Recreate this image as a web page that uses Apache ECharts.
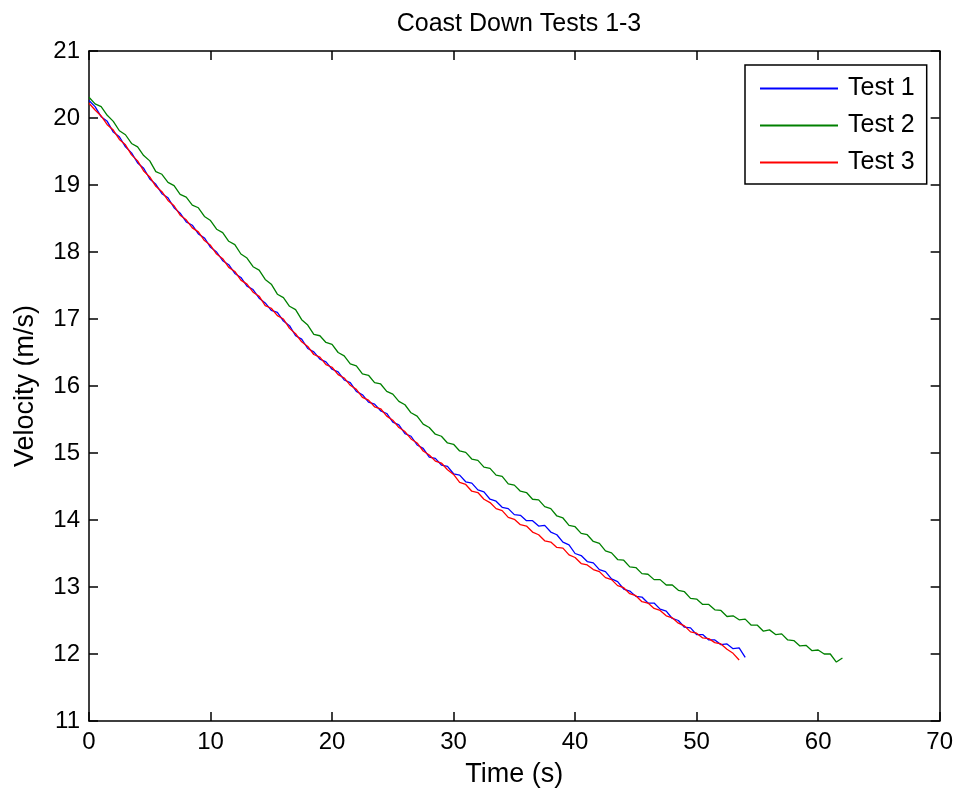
<!DOCTYPE html>
<html>
<head>
<meta charset="utf-8">
<script src="https://cdn.jsdelivr.net/npm/echarts@6/dist/echarts.min.js"></script>
<style>
html,body{margin:0;padding:0;background:#fff;}
#chart{width:956px;height:793px;}
</style>
</head>
<body>
<div id="chart"></div>
<script>
const titleText = "Coast Down Tests 1-3";
const xName = "Time (s)";
const yName = "Velocity (m/s)";
const seriesNames = ["Test 1", "Test 2", "Test 3"];
const xTicks = [0, 10, 20, 30, 40, 50, 60, 70];
const yTicks = [11, 12, 13, 14, 15, 16, 17, 18, 19, 20, 21];

// sample times (s)
const time = [0,0.5,1,1.5,2,2.5,3,3.5,4,4.5,5,5.5,6,6.5,7,7.5,8,8.5,9,9.5,
10,10.5,11,11.5,12,12.5,13,13.5,14,14.5,15,15.5,16,16.5,17,17.5,18,18.5,19,19.5,
20,20.5,21,21.5,22,22.5,23,23.5,24,24.5,25,25.5,26,26.5,27,27.5,28,28.5,29,29.5,
30,30.5,31,31.5,32,32.5,33,33.5,34,34.5,35,35.5,36,36.5,37,37.5,38,38.5,39,39.5,
40,40.5,41,41.5,42,42.5,43,43.5,44,44.5,45,45.5,46,46.5,47,47.5,48,48.5,49,49.5,
50,50.5,51,51.5,52,52.5,53,53.5,54,54.5,55,55.5,56,56.5,57,57.5,58,58.5,59,59.5,
60,60.5,61,61.5,62];

// Test 1 velocity (m/s)
const test1 = [20.26,20.17,20.02,19.95,19.79,19.72,19.57,19.48,19.33,19.25,
19.09,19.01,18.87,18.81,18.66,18.58,18.45,18.40,18.27,18.21,
18.07,18.00,17.87,17.81,17.68,17.62,17.49,17.44,17.31,17.24,
17.13,17.10,16.97,16.90,16.75,16.70,16.56,16.51,16.40,16.36,
16.25,16.21,16.09,16.05,15.92,15.87,15.76,15.73,15.63,15.59,
15.46,15.42,15.29,15.25,15.12,15.07,14.94,14.92,14.82,14.80,
14.69,14.67,14.57,14.55,14.45,14.42,14.31,14.28,14.19,14.17,
14.08,14.07,13.99,13.99,13.91,13.92,13.82,13.78,13.67,13.63,
13.50,13.47,13.38,13.36,13.26,13.23,13.12,13.08,12.97,12.94,
12.86,12.85,12.76,12.76,12.67,12.64,12.53,12.50,12.40,12.39,
12.29,12.29,12.21,12.21,12.14,12.15,12.08,12.09,11.95];

// Test 2 velocity (m/s)
const test2 = [20.31,20.21,20.17,20.04,19.95,19.81,19.75,19.62,19.57,19.44,
19.36,19.20,19.16,19.04,18.99,18.86,18.82,18.70,18.66,18.53,
18.47,18.34,18.29,18.16,18.11,17.97,17.91,17.78,17.73,17.59,
17.52,17.37,17.32,17.19,17.14,16.99,16.91,16.77,16.75,16.65,
16.62,16.50,16.45,16.33,16.30,16.18,16.16,16.05,16.03,15.92,
15.88,15.77,15.72,15.60,15.55,15.43,15.38,15.28,15.25,15.15,
15.13,15.03,15.01,14.91,14.89,14.79,14.77,14.67,14.65,14.54,
14.52,14.43,14.41,14.31,14.30,14.20,14.17,14.06,14.03,13.92,
13.90,13.80,13.78,13.68,13.65,13.54,13.51,13.41,13.40,13.30,
13.29,13.20,13.19,13.11,13.11,13.03,13.03,12.95,12.93,12.83,
12.82,12.74,12.74,12.66,12.65,12.56,12.57,12.51,12.52,12.43,
12.43,12.34,12.36,12.29,12.30,12.21,12.20,12.12,12.13,12.05,
12.06,12.00,12.00,11.88,11.94];

// Test 3 velocity (m/s)
const test3 = [20.22,20.12,20.03,19.90,19.82,19.68,19.60,19.45,19.36,19.21,
19.12,18.98,18.90,18.77,18.69,18.55,18.48,18.36,18.30,18.17,
18.10,17.97,17.90,17.77,17.71,17.58,17.52,17.40,17.34,17.20,
17.16,17.05,17.00,16.86,16.78,16.66,16.59,16.47,16.43,16.32,
16.28,16.17,16.12,16.01,15.95,15.83,15.79,15.69,15.66,15.55,
15.49,15.38,15.32,15.21,15.15,15.03,14.97,14.88,14.85,14.75,
14.68,14.56,14.53,14.43,14.41,14.31,14.26,14.17,14.14,14.04,
14.01,13.93,13.91,13.82,13.78,13.69,13.67,13.59,13.58,13.48,
13.44,13.35,13.33,13.26,13.23,13.14,13.11,13.02,12.99,12.90,
12.87,12.78,12.76,12.68,12.65,12.57,12.54,12.46,12.42,12.33,
12.31,12.24,12.23,12.17,12.15,12.07,12.01,11.91];

const colors = ["#0000ff", "#008000", "#ff0000"];
const FONT = "Liberation Sans";

function pairs(vals){ return vals.map((v,i)=>[time[i], v]); }

const chart = echarts.init(document.getElementById('chart'), null, {renderer:'canvas'});

const axisCommon = {
  axisLine:{show:true, onZero:false, lineStyle:{color:'#000', width:1.5}},
  axisTick:{show:true, inside:true, length:9, lineStyle:{color:'#000', width:1.5}},
  splitLine:{show:false}
};

chart.setOption({
  animation:false,
  backgroundColor:'#fff',
  textStyle:{fontFamily:FONT},
  title:{text:titleText, left:514, top:7, textAlign:'center',
    textStyle:{fontFamily:FONT, fontSize:25, fontWeight:'normal', color:'#000'}},
  grid:{left:89, right:15, top:51, bottom:71, containLabel:false},
  legend:{
    orient:'vertical', left:745, top:65,
    data:seriesNames,
    icon:'rect', itemWidth:78, itemHeight:2, itemGap:12,
    padding:[11, 12, 9, 15],
    borderColor:'#000', borderWidth:1.5, backgroundColor:'#fff',
    textStyle:{fontFamily:FONT, fontSize:25, color:'#000', padding:[0,0,0,5]}
  },
  xAxis:[
    Object.assign({type:'value', min:xTicks[0], max:xTicks[xTicks.length-1], interval:10, position:'bottom',
      axisLabel:{color:'#000', fontSize:24, fontFamily:FONT, margin:9},
      name:xName, nameLocation:'middle', nameGap:40,
      nameTextStyle:{color:'#000', fontSize:27, fontFamily:FONT}}, axisCommon),
    Object.assign({type:'value', min:xTicks[0], max:xTicks[xTicks.length-1], interval:10, position:'top',
      axisLabel:{show:false}}, axisCommon)
  ],
  yAxis:[
    Object.assign({type:'value', min:yTicks[0], max:yTicks[yTicks.length-1], interval:1, position:'left',
      axisLabel:{color:'#000', fontSize:24, fontFamily:FONT, margin:9},
      name:yName, nameLocation:'middle', nameGap:50,
      nameTextStyle:{color:'#000', fontSize:27, fontFamily:FONT}}, axisCommon),
    Object.assign({type:'value', min:yTicks[0], max:yTicks[yTicks.length-1], interval:1, position:'right',
      axisLabel:{show:false}}, axisCommon)
  ],
  series:[
    {name:seriesNames[0], type:'line', data:pairs(test1), showSymbol:false, symbol:'none',
      lineStyle:{color:colors[0], width:1.3}, itemStyle:{color:colors[0]}, z:2},
    {name:seriesNames[1], type:'line', data:pairs(test2), showSymbol:false, symbol:'none',
      lineStyle:{color:colors[1], width:1.3}, itemStyle:{color:colors[1]}, z:2},
    {name:seriesNames[2], type:'line', data:pairs(test3), showSymbol:false, symbol:'none',
      lineStyle:{color:colors[2], width:1.3}, itemStyle:{color:colors[2]}, z:3}
  ]
});
</script>
</body>
</html>
